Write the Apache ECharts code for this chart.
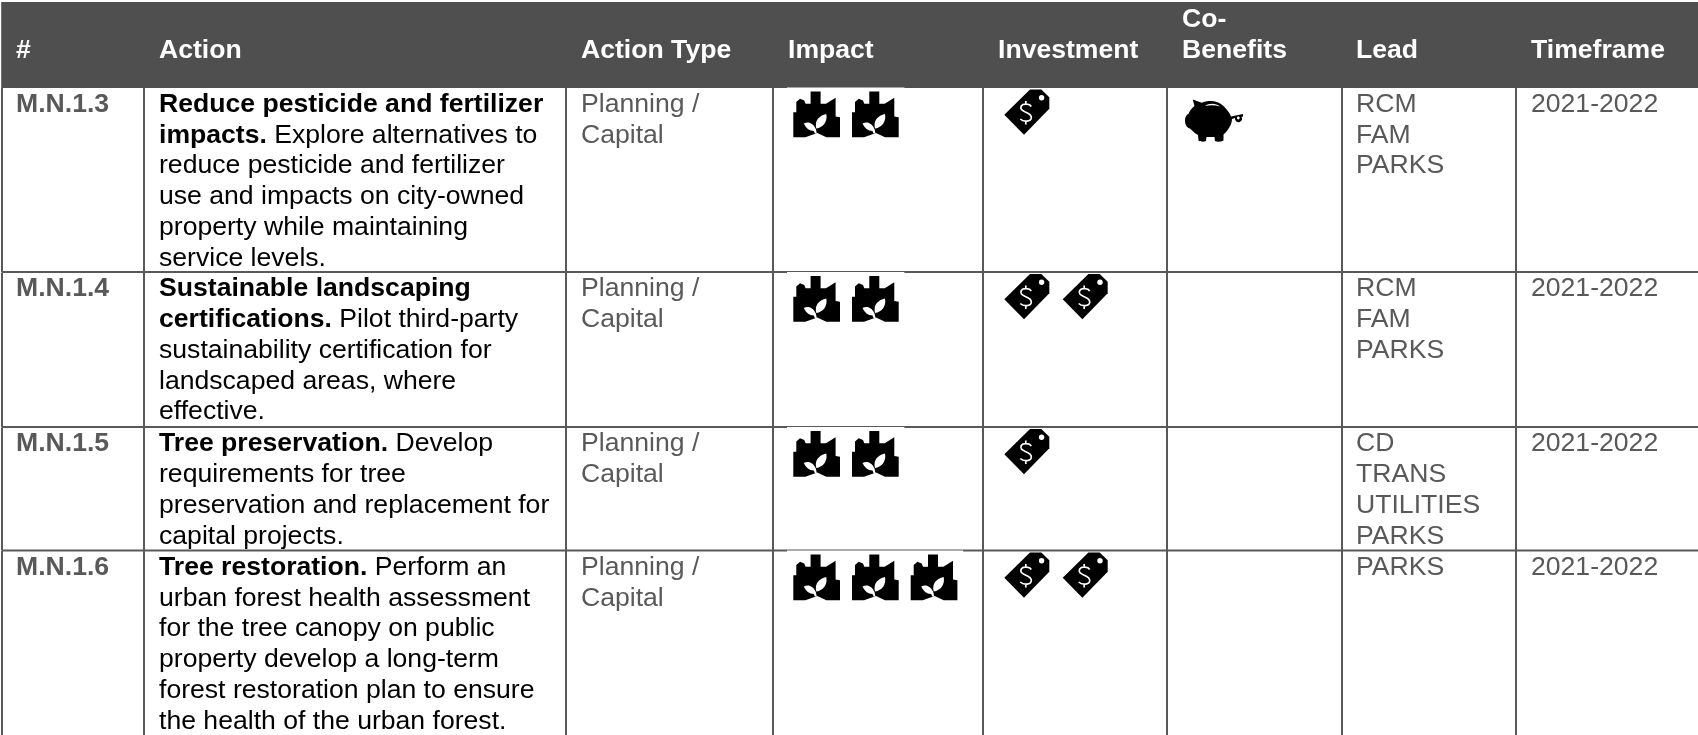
<!DOCTYPE html>
<html><head><meta charset="utf-8">
<style>html,body{margin:0;padding:0;background:#fff}#c{width:1698px;height:735px}</style>
<script src="https://cdn.jsdelivr.net/npm/echarts@6/dist/echarts.min.js"></script>
</head><body><div id="c"></div>
<script>
// ---- data ----
const headers = [['#'],['Action'],['Action Type'],['Impact'],['Investment'],['Co-','Benefits'],['Lead'],['Timeframe']];
const ids = ['M.N.1.3','M.N.1.4','M.N.1.5','M.N.1.6'];
const actionBold = [
  ['Reduce pesticide and fertilizer','impacts.'],
  ['Sustainable landscaping','certifications.'],
  ['Tree preservation.'],
  ['Tree restoration.']
];
const actionPlain = [
  [' Explore alternatives to','reduce pesticide and fertilizer','use and impacts on city-owned','property while maintaining','service levels.'],
  [' Pilot third-party','sustainability certification for','landscaped areas, where','effective.'],
  [' Develop','requirements for tree','preservation and replacement for','capital projects.'],
  [' Perform an','urban forest health assessment','for the tree canopy on public','property develop a long-term','forest restoration plan to ensure','the health of the urban forest.']
];
const actionTypes = [['Planning /','Capital'],['Planning /','Capital'],['Planning /','Capital'],['Planning /','Capital']];
const impactCounts = [2,2,2,3];
const investmentCounts = [1,2,1,2];
const coBenefitCounts = [1,0,0,0];
const leads = [['RCM','FAM','PARKS'],['RCM','FAM','PARKS'],['CD','TRANS','UTILITIES','PARKS'],['PARKS']];
const timeframes = ['2021-2022','2021-2022','2021-2022','2021-2022'];

// ---- layout ----
const W = 1698, H = 735;
const colX = [2,144,566,773,983,1167,1342,1516,1698];
const rowY = [87.5,272,427,550.5,735];
const textX = [16,159,581,788,998,1182,1356,1531];
const LH = 30.75, FS = 26.6;
const LINE = '#595959', HEAD = '#4f4f4f', GREY = '#595959', FF = '"Liberation Sans",Arial,sans-serif';
const CITY_STEP = 58.7, TAG_STEP = 58.4;

// icon artwork, drawn in local pixel boxes
const cityBody = 'M0 45.7V20.7H3V10.5L6.7 7.3L11 9L12.3 12.3H17.3V0H27.3V12.3H32.7L42.3 6.3V25L46.7 25.7V45.7H33L24 41.5L12 45.7H0Z';
const cityLeaf = 'M23 37C21 29 26 24 33 22.5C34.5 30 30 36 23 37ZM10.5 32C15 29.5 20 31.5 22.5 37.5L23.5 42H21.5L20.5 39.5C16 39.5 12.5 36.5 10.5 32Z';
const tagBody = 'M0 25.3L25.7 0H37L45 7.7V19.3L19.7 45.3Z';
const tagS = 'M27 17C25.5 14.5 19 13.5 17 16.5C15.5 19.5 17.5 21 21 22.5C25 24 27.5 25.5 27 28.5C26.5 32 19.5 33 16 29.5M21.5 11.5V14.5M21.5 32V35';
const pigBody = 'M7.7 0L16.7 3.3C24 0 33 1 39 7C42 10 45 14 46 17L58 14.5V17L56.5 17.5A3.5 3.5 0 1 1 50 18.5L47 19.5C47 25 43 31 38.5 35V41C36 42.5 32 42.5 30 41.5L29.5 37.5H21.5L21 41.5C19 42.5 15.5 42.5 13.5 41L13 35.5C9.5 33.5 7 31 5 29C2.5 28.5 0 26 0 21C0 18 1.5 15 3.5 14.5C4.5 12 6 9 9.5 6.5Z';
const pigMark = 'M20 6.5C24 3.5 31 3.5 35 7C30 5.5 25 5.5 20 6.5Z';

const rowIdx = ids.map((d,i)=>[i]);
const font = (bold)=>({fontFamily:FF, fontSize:FS, fontWeight:bold?'bold':'normal'});

function lines(api,x,yc,arr,fill,bold){
  return arr.map((t,k)=>{
    const p = api.coord([x,yc+k*LH]);
    return {type:'text', x:p[0], y:p[1], silent:true,
      style:Object.assign({text:t, fill, verticalAlign:'middle', align:'left'}, font(bold))};
  });
}
function pathAt(d,x,y,style){
  return {type:'path',x,y,shape:{pathData:d,layout:'none'},style};
}
function icons(kind,x0,y0,n,out,api){
  for(let k=0;k<n;k++){
    const step = kind==='city'?CITY_STEP:TAG_STEP;
    const p = api.coord([x0+k*step, y0]);
    const x=p[0], y=p[1];
    if(kind==='city'){
      out.push(pathAt(cityBody,x,y,{fill:'#000'}));
      out.push(pathAt(cityLeaf,x,y,{fill:'#fff'}));
    } else if(kind==='tag'){
      out.push(pathAt(tagBody,x,y,{fill:'#000'}));
      out.push({type:'circle',x:x+37.3,y:y+8.3,shape:{cx:0,cy:0,r:2.7},style:{fill:'#fff'}});
      out.push(pathAt(tagS,x,y,{fill:null,stroke:'#fff',lineWidth:1.7}));
    } else {
      out.push(pathAt(pigBody,x,y,{fill:'#000'}));
      out.push(pathAt(pigMark,x,y,{fill:'#fff'}));
      out.push({type:'circle',x:x+53.3,y:y+18.5,shape:{cx:0,cy:0,r:1.4},style:{fill:'#fff'}});
    }
  }
}
function renderHeader(params, api){
  const out=[];
  const a=api.coord([1.2,2]), b=api.coord([W,rowY[0]+0.5]);
  out.push({type:'rect',shape:{x:a[0],y:a[1],width:b[0]-a[0],height:b[1]-a[1]},style:{fill:HEAD}});
  headers.forEach((h,i)=>{
    const y0=50.5-(h.length-1)*LH;
    lines(api,textX[i],y0,h,'#fff',true).forEach(e=>out.push(e));
  });
  return {type:'group',children:out};
}
function renderRow(params, api){
  const r=api.value(0), out=[];
  const top=rowY[r], bottom=rowY[r+1];
  const line=(x1,y1,x2,y2,w)=>{
    const p=api.coord([x1,y1]),q=api.coord([x2,y2]);
    return {type:'line',shape:{x1:p[0],y1:p[1],x2:q[0],y2:q[1]},style:{stroke:LINE,lineWidth:w}};
  };
  out.push(line(colX[0],top+0.5,colX[0],bottom,2));
  for(let c=1;c<8;c++) out.push(line(colX[c],top+0.5,colX[c],bottom,2));
  if(r<3) out.push(line(colX[0],bottom,W,bottom,2));
  // white icon background clipping the rule above the icons
  const bg=api.coord([787,top]);
  out.push({type:'rect',shape:{x:bg[0],y:bg[1],width:impactCounts[r]*CITY_STEP,height:2},style:{fill:'#fff'},z2:5});

  const yc=top+17;
  lines(api,textX[0],yc,[ids[r]],GREY,true).forEach(e=>out.push(e));
  const rich={b:Object.assign({fill:'#000'},font(true)),p:Object.assign({fill:'#000'},font(false))};
  const ln=actionBold[r].map(t=>'{b|'+t+'}');
  actionPlain[r].forEach((t,i)=>{
    if(i===0) ln[ln.length-1]+='{p|'+t+'}'; else ln.push('{p|'+t+'}');
  });
  ln.forEach((t,i)=>{
    const q=api.coord([textX[1],yc+i*LH]);
    out.push({type:'text',x:q[0],y:q[1],silent:true,style:{text:t,rich,verticalAlign:'middle',align:'left'}});
  });
  lines(api,textX[2],yc,actionTypes[r],GREY,false).forEach(e=>out.push(e));
  icons('city',793.3,top+4,impactCounts[r],out,api);
  icons('tag',1004.3,top+2,investmentCounts[r],out,api);
  icons('pig',1185,top+12,coBenefitCounts[r],out,api);
  lines(api,textX[6],yc,leads[r],GREY,false).forEach(e=>out.push(e));
  lines(api,textX[7],yc,[timeframes[r]],GREY,false).forEach(e=>out.push(e));
  return {type:'group',children:out.map(e=>Object.assign({z2:e.z2||1},e))};
}
const chart=echarts.init(document.getElementById('c'),null,{renderer:'canvas'});
chart.setOption({
  animation:false,
  backgroundColor:'#fff',
  grid:{left:0,right:0,top:0,bottom:0},
  xAxis:{type:'value',min:0,max:W,show:false},
  yAxis:{type:'value',min:0,max:H,inverse:true,show:false},
  series:[
    {type:'custom',coordinateSystem:'cartesian2d',clip:false,silent:true,data:[[0]],renderItem:renderHeader,encode:{x:0},z:1},
    {type:'custom',coordinateSystem:'cartesian2d',clip:false,silent:true,data:rowIdx,renderItem:renderRow,encode:{x:0},z:2}
  ]
});
</script></body></html>
